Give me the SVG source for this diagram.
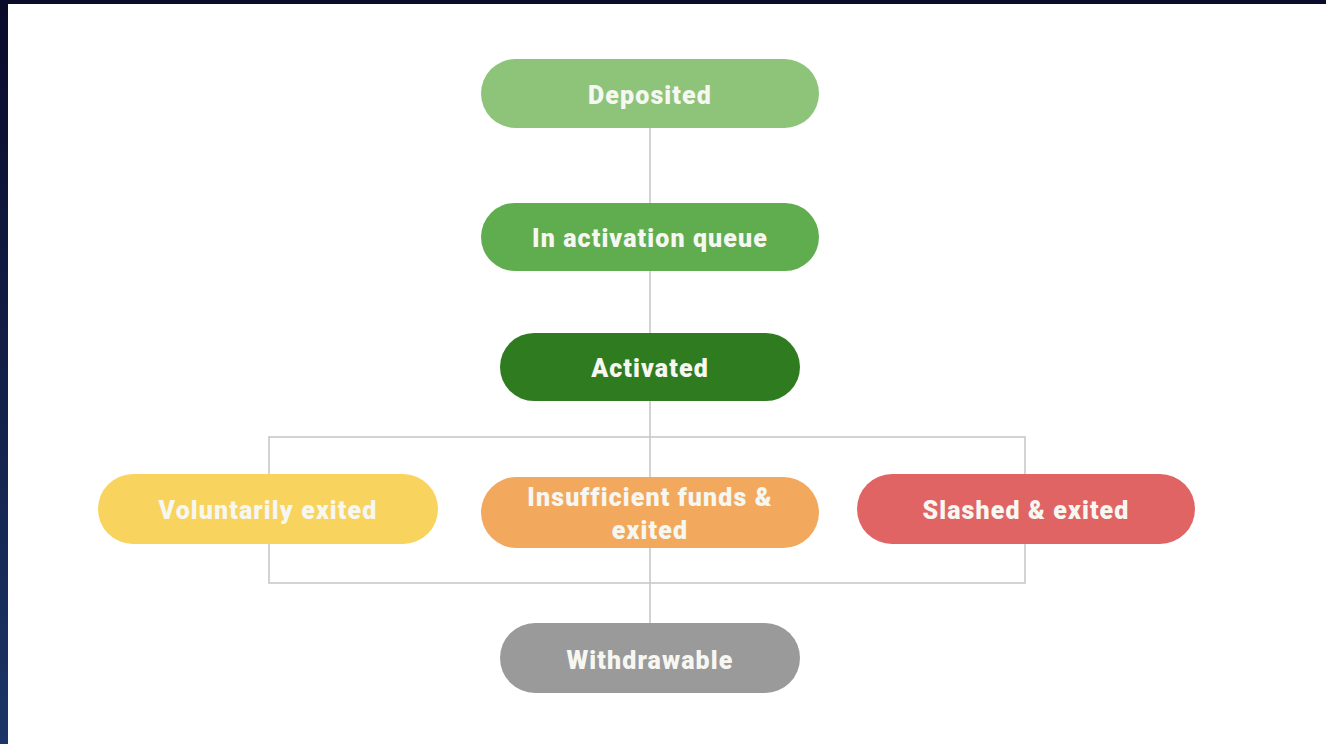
<svg xmlns="http://www.w3.org/2000/svg" width="1326" height="744" viewBox="0 0 1326 744">
<defs>
<linearGradient id="frame" x1="0" y1="0" x2="0" y2="1">
<stop offset="0" stop-color="#0a0a2a"/>
<stop offset="1" stop-color="#1b3566"/>
</linearGradient>
<style>
.lbl{font-family:Roboto,"Liberation Sans",sans-serif;font-weight:900;font-size:25px;letter-spacing:1.1px;fill:#f7f7f2;text-anchor:middle;dominant-baseline:central}
.conn{stroke:#c8c8c8;stroke-width:1.6;fill:none}
</style>
</defs>
<rect x="0" y="0" width="1326" height="744" fill="url(#frame)"/>
<rect x="8" y="4" width="1318" height="740" fill="#ffffff"/>
<g id="connectors">
<line class="conn" x1="650" y1="128" x2="650" y2="623"/>
<rect class="conn" x="269" y="437" width="756" height="146"/>
</g>
<g id="deposited">
<rect x="481" y="59" width="338" height="69" rx="34.5" fill="#8dc47a"/>
<text class="lbl" x="650" y="95">Deposited</text>
</g>
<g id="queue">
<rect x="481" y="203" width="338" height="68" rx="34" fill="#5fad4f"/>
<text class="lbl" x="650" y="238">In activation queue</text>
</g>
<g id="activated">
<rect x="500" y="333" width="300" height="68" rx="34" fill="#2f7b1f"/>
<text class="lbl" x="650" y="368">Activated</text>
</g>
<g id="voluntary">
<rect x="98" y="474" width="340" height="70" rx="35" fill="#f8d35e"/>
<text class="lbl" x="268" y="510">Voluntarily exited</text>
</g>
<g id="insufficient">
<rect x="481" y="477" width="338" height="71" rx="35.5" fill="#f2a95e"/>
<text class="lbl" x="650" y="497">Insufficient funds &amp;</text>
<text class="lbl" x="650" y="530">exited</text>
</g>
<g id="slashed">
<rect x="857" y="474" width="338" height="70" rx="35" fill="#e06464"/>
<text class="lbl" x="1026" y="510">Slashed &amp; exited</text>
</g>
<g id="withdrawable">
<rect x="500" y="623" width="300" height="70" rx="35" fill="#9a9a9a"/>
<text class="lbl" x="650" y="660">Withdrawable</text>
</g>
</svg>
